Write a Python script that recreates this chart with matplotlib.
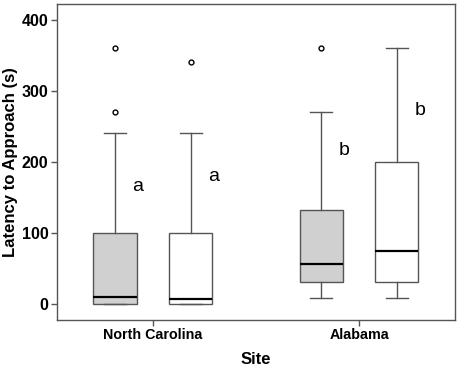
import matplotlib
matplotlib.use("Agg")
from matplotlib import pyplot as plt

plt.rcParams['font.family'] = ['Liberation Sans', 'DejaVu Sans']

sites = ['North Carolina', 'Alabama']
# box stats per group: NC gray, NC white, AL gray, AL white
whislo = [0, 0, 8, 8]
q1 = [0, 0, 31, 31]
med = [10, 7, 56, 75]
q3 = [100, 100, 133, 200]
whishi = [240, 240, 270, 360]
fliers = [[270, 360], [340], [360], []]
letters = ['a', 'a', 'b', 'b']
letter_y = [165, 179, 216, 273]
fills = ['#d0d0d0', 'white', '#d0d0d0', 'white']

offset = 0.184
width = 0.209
pos = []
for i in range(len(sites)):
    pos += [i - offset, i + offset]

stats = []
for k in range(4):
    stats.append(dict(whislo=whislo[k], q1=q1[k], med=med[k], q3=q3[k],
                      whishi=whishi[k], fliers=fliers[k]))

fig, ax = plt.subplots(figsize=(4.59, 3.68), dpi=100)
fig.subplots_adjust(left=0.124, right=0.991, top=0.989, bottom=0.13)

edge = '#555555'
bp = ax.bxp(stats, positions=pos, widths=width, capwidths=width / 2,
            patch_artist=True,
            boxprops=dict(edgecolor=edge, linewidth=1.0),
            whiskerprops=dict(color=edge, linewidth=1.0),
            capprops=dict(color=edge, linewidth=1.0),
            medianprops=dict(color='black', linewidth=1.6),
            flierprops=dict(marker='o', markersize=3.5, markerfacecolor='white',
                            markeredgecolor='black', markeredgewidth=1.0))
for patch, c in zip(bp['boxes'], fills):
    patch.set_facecolor(c)

for k in range(4):
    ax.text(pos[k] + 0.085, letter_y[k], letters[k], fontsize=14,
            ha='left', va='center')

ax.set_xlim(-0.466, 1.465)
ax.set_ylim(-22.5, 422)
ax.set_yticks([0, 100, 200, 300, 400])
ax.set_xticks(range(len(sites)))
ax.set_xticklabels(sites, fontweight='bold', fontsize=10.3)
for lab in ax.get_yticklabels():
    lab.set_fontweight('bold')
    lab.set_fontsize(11.5)
for s in ax.spines.values():
    s.set_color(edge)
    s.set_linewidth(1.0)
ax.tick_params(direction='out', length=4, color=edge, width=1.0, pad=2)
ax.set_xlabel('Site', fontweight='bold', fontsize=12, labelpad=7)
ax.set_ylabel('Latency to Approach (s)', fontweight='bold', fontsize=12, labelpad=3)

plt.savefig('out.png', dpi=100)
